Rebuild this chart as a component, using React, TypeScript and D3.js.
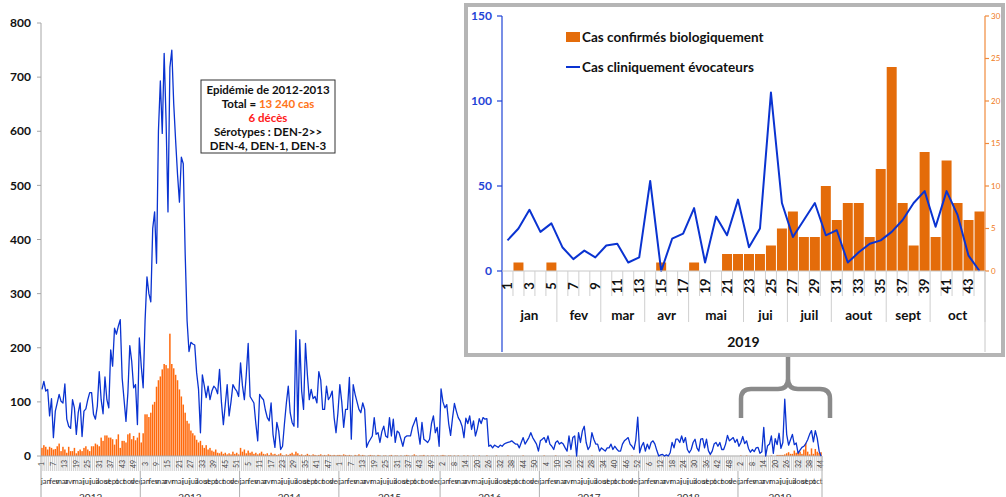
import { scaleBand, scaleLinear, line } from 'd3';

// weekly counts (clinical = blue line, confirmed = orange bars)
const years = ['2012', '2013', '2014', '2015', '2016', '2017', '2018', '2019'];
const months = ['jan', 'fev', 'mar', 'avr', 'mai', 'jui', 'juil', 'aout', 'sept', 'oct', 'nov', 'dec'];
const monthWeeks = [5, 4, 4, 4, 5, 4, 4, 5, 4, 5, 4, 4];
const monthWeeks53 = [5, 4, 4, 4, 5, 4, 4, 5, 4, 5, 4, 5];

const clin2012 = [123, 138, 120, 123, 74, 106, 34, 83, 98, 114, 101, 98, 133, 68, 55, 51, 104, 89, 40, 80, 98, 36, 83, 87, 104, 117, 117, 77, 68, 92, 156, 104, 78, 146, 104, 89, 196, 166, 236, 225, 240, 252, 144, 104, 64, 117, 204, 175, 126, 132, 58, 218];
const clin2013 = [166, 126, 250, 331, 300, 285, 420, 451, 356, 600, 693, 596, 744, 620, 451, 718, 750, 651, 583, 520, 469, 552, 540, 374, 250, 193, 210, 207, 205, 154, 123, 43, 150, 130, 108, 129, 104, 120, 129, 125, 115, 160, 99, 58, 95, 132, 74, 100, 132, 125, 120, 110];
const clin2014 = [172, 130, 104, 150, 208, 110, 104, 98, 60, 28, 114, 108, 104, 85, 71, 65, 98, 40, 16, 62, 46, 12, 18, 60, 98, 129, 80, 62, 55, 232, 53, 215, 120, 86, 208, 150, 104, 123, 106, 110, 98, 156, 140, 86, 86, 129, 104, 110, 120, 71, 43, 80];
const clin2015 = [132, 100, 53, 86, 86, 145, 31, 132, 114, 100, 86, 80, 98, 86, 16, 25, 31, 37, 71, 40, 43, 25, 45, 55, 37, 34, 71, 37, 68, 25, 46, 43, 31, 18, 34, 37, 37, 37, 53, 62, 71, 46, 22, 62, 31, 28, 25, 31, 60, 74, 43, 53, 18];
const clin2016 = [124, 100, 89, 95, 60, 38, 70, 97, 83, 71, 65, 55, 34, 70, 60, 74, 49, 65, 37, 50, 69, 60, 71, 68, 69, 18, 20, 15, 20, 18, 16, 20, 18, 22, 24, 25, 26, 28, 25, 22, 22, 15, 25, 34, 22, 28, 34, 43, 34, 28, 22, 9];
const clin2017 = [28, 31, 34, 25, 37, 22, 18, 12, 25, 28, 22, 25, 22, 15, 9, 37, 12, 34, 37, 0, 43, 25, 46, 55, 25, 12, 18, 43, 31, 22, 22, 9, 15, 12, 9, 15, 15, 22, 12, 18, 13, 9, 9, 22, 28, 31, 34, 22, 18, 12, 30, 72];
const clin2018 = [6, 18, 25, 9, 22, 13, 25, 28, 22, 10, 0, 2, 3, 0, 2, 0, 6, 25, 15, 31, 31, 25, 37, 25, 34, 12, 6, 12, 25, 31, 15, 9, 31, 32, 15, 31, 10, 3, 9, 22, 25, 18, 25, 12, 12, 22, 38, 28, 31, 34, 25, 31];
const clin2019 = [18, 25, 36, 23, 28, 14, 7, 12, 8, 15, 16, 5, 8, 53, 0, 19, 22, 37, 5, 32, 21, 42, 14, 25, 105, 40, 20, 30, 40, 21, 24, 5, 11, 16, 18, 23, 30, 40, 47, 26, 47, 33, 9, 0];

const conf2012 = [15, 20, 17, 12, 17, 15, 12, 13, 18, 23, 9, 17, 12, 6, 17, 9, 9, 15, 5, 9, 12, 9, 15, 18, 12, 9, 18, 18, 23, 21, 18, 34, 28, 38, 38, 34, 34, 31, 21, 31, 40, 15, 28, 28, 25, 40, 42, 31, 37, 29, 34, 43];
const conf2013 = [25, 42, 77, 77, 72, 80, 95, 100, 128, 140, 147, 160, 170, 168, 162, 226, 170, 162, 150, 140, 123, 110, 95, 80, 65, 60, 47, 42, 38, 30, 25, 28, 20, 15, 20, 12, 15, 10, 8, 12, 6, 5, 8, 4, 6, 3, 5, 3, 8, 4, 6, 3];
const conf2014 = [15, 8, 12, 5, 10, 6, 8, 4, 6, 3, 5, 8, 4, 3, 5, 2, 6, 3, 4, 2, 3, 5, 2, 1, 3, 2, 4, 6, 3, 8, 5, 2, 3, 1, 2, 4, 2, 1, 3, 2, 1, 2, 3, 1, 2, 1, 3, 2, 1, 2, 1, 2];
const conf2015 = [2, 1, 3, 2, 1, 2, 1, 0, 2, 1, 3, 1, 2, 1, 0, 1, 2, 1, 1, 0, 2, 1, 0, 1, 1, 0, 1, 2, 0, 1, 1, 0, 1, 0, 1, 2, 1, 0, 1, 3, 1, 0, 1, 1, 2, 0, 1, 0, 1, 1, 0, 1, 0];
const conf2016 = [1, 2, 1, 0, 1, 1, 0, 1, 0, 1, 0, 0, 1, 0, 1, 0, 0, 1, 0, 0, 1, 0, 0, 0, 1, 0, 0, 0, 0, 1, 0, 0, 0, 0, 0, 1, 0, 0, 0, 0, 0, 0, 0, 1, 0, 0, 0, 0, 0, 0, 0, 0];
const conf2017 = [0, 0, 1, 0, 0, 0, 0, 0, 1, 0, 0, 0, 0, 0, 0, 1, 0, 0, 0, 0, 0, 0, 0, 0, 0, 0, 0, 1, 0, 0, 0, 0, 0, 0, 0, 0, 0, 0, 0, 0, 0, 0, 0, 0, 0, 0, 0, 0, 1, 0, 0, 0];
const conf2018 = [0, 0, 0, 0, 0, 0, 0, 0, 0, 0, 0, 0, 0, 0, 0, 0, 0, 0, 0, 0, 0, 0, 0, 0, 0, 0, 0, 0, 0, 0, 0, 0, 0, 0, 0, 0, 0, 1, 0, 0, 0, 0, 0, 0, 0, 0, 0, 0, 0, 0, 0, 0];
const conf2019 = [0, 1, 0, 0, 1, 0, 0, 0, 0, 0, 0, 0, 0, 0, 1, 0, 0, 1, 0, 0, 2, 2, 2, 2, 3, 5, 7, 4, 4, 10, 6, 8, 8, 4, 12, 24, 8, 3, 14, 4, 13, 8, 6, 7];

const clinicalByYear = [clin2012, clin2013, clin2014, clin2015, clin2016, clin2017, clin2018, clin2019];
const confirmedByYear = [conf2012, conf2013, conf2014, conf2015, conf2016, conf2017, conf2018, conf2019];

const mainTicks = [0, 100, 200, 300, 400, 500, 600, 700, 800];
const insetLeftTicks = [0, 50, 100, 150];
const insetRightTicks = [0, 5, 10, 15, 20, 25, 30];

type Week = { idx: number; yi: number; week: number; clin: number; conf: number };

const weeks: Week[] = [];
clinicalByYear.forEach((arr, yi) => {
  arr.forEach((v, k) => {
    weeks.push({ idx: weeks.length, yi, week: k + 1, clin: v, conf: confirmedByYear[yi][k] });
  });
});

// month groups for a year of n weeks
const monthGroups = (n: number) => {
  const sizes = n === 53 ? monthWeeks53 : monthWeeks;
  const out: { label: string; start: number; len: number }[] = [];
  let s = 0;
  sizes.forEach((len, i) => {
    if (s >= n) return;
    const l = Math.min(len, n - s);
    out.push({ label: months[i], start: s, len: l });
    s += l;
  });
  return out;
};

const FONT = "Lato, 'Liberation Sans', Arial, sans-serif";
const ORANGE_MAIN = '#ff6a0d';
const ORANGE_INSET = '#e46c0a';
const BLUE = '#0a33d1';

const App = () => {
  // main chart
  const x = scaleBand<number>().domain(weeks.map((d) => d.idx)).range([41, 822]);
  const bw = x.bandwidth();
  const y = scaleLinear().domain([0, 800]).range([456, 23]);
  const mainLine = line<Week>()
    .x((d) => (x(d.idx) as number) + bw / 2)
    .y((d) => y(d.clin));

  const yearStarts: number[] = [];
  let acc = 0;
  clinicalByYear.forEach((arr) => {
    yearStarts.push(acc);
    acc += arr.length;
  });

  // inset chart (2019)
  const w19 = weeks.filter((d) => d.yi === 7);
  const xi = scaleBand<number>().domain(w19.map((d) => d.week)).range([502, 985]);
  const ibw = xi.bandwidth();
  const yl = scaleLinear().domain([0, 150]).range([271, 16]);
  const yr = scaleLinear().domain([0, 30]).range([271, 16]);
  const insetLine = line<Week>()
    .x((d) => (xi(d.week) as number) + ibw / 2)
    .y((d) => yl(d.clin));

  return (
    <svg
      width={1006}
      height={497}
      style={{ position: 'absolute', left: 0, top: 0, display: 'block', background: '#fff' }}
      fontFamily={FONT}
    >
      {/* main y axis */}
      <line x1={41} x2={41} y1={23} y2={497} stroke="#a6a6a6" />
      {mainTicks.map((t) => (
        <g key={t}>
          <line x1={37} x2={41} y1={y(t)} y2={y(t)} stroke="#a6a6a6" />
          <text x={31} y={y(t)} dy="0.35em" textAnchor="end" fontSize={12} fontWeight={700} fill="#111">
            {t}
          </text>
        </g>
      ))}

      {/* bars */}
      {weeks.map((d) => (
        <rect
          key={'b' + d.idx}
          x={(x(d.idx) as number) + 0.2}
          width={bw - 0.4}
          y={y(d.conf)}
          height={456 - y(d.conf)}
          fill={ORANGE_MAIN}
        />
      ))}

      {/* x axis: week ticks band */}
      <line x1={41} x2={822} y1={456} y2={456} stroke="#a6a6a6" />
      {weeks.map((d) => (
        <line
          key={'t' + d.idx}
          x1={(x(d.idx) as number) + bw}
          x2={(x(d.idx) as number) + bw}
          y1={456}
          y2={471}
          stroke="#c4c4c4"
          strokeWidth={0.8}
        />
      ))}
      {weeks
        .filter((d) => d.idx % 6 === 0)
        .map((d) => {
          const cx = (x(d.idx) as number) + bw / 2;
          return (
            <text
              key={'wl' + d.idx}
              transform={`translate(${cx},464) rotate(-90)`}
              textAnchor="middle"
              dy="0.35em"
              fontSize={7}
              fill="#444"
            >
              {d.week}
            </text>
          );
        })}
      {clinicalByYear.map((arr, yi) =>
        monthGroups(arr.length).map((m) => {
          const x0 = x(yearStarts[yi] + m.start) as number;
          return (
            <text
              key={'m' + yi + m.label}
              x={x0 + (m.len * bw) / 2}
              y={484}
              textAnchor="middle"
              fontSize={7.5}
              fill="#333"
            >
              {m.label}
            </text>
          );
        })
      )}
      {yearStarts.map((s, yi) => {
        const x0 = x(s) as number;
        const x1 = x0 + clinicalByYear[yi].length * bw;
        return (
          <g key={'y' + yi}>
            {yi > 0 && <line x1={x0} x2={x0} y1={471} y2={497} stroke="#b0b0b0" />}
            <text x={(x0 + x1) / 2} y={501} textAnchor="middle" fontSize={10} fill="#333">
              {years[yi]}
            </text>
          </g>
        );
      })}
      <line x1={822} x2={822} y1={456} y2={497} stroke="#b0b0b0" />

      {/* clinical line */}
      <path d={mainLine(weeks) || ''} fill="none" stroke={BLUE} strokeWidth={1.3} strokeLinejoin="round" />

      {/* annotation */}
      <rect x={201} y={80} width={134} height={73} fill="#fff" stroke="#333" strokeWidth={1} />
      <g fontSize={11.5} fontWeight={700} textAnchor="middle" fill="#111">
        <text x={268} y={90} dy="0.35em">Epidémie de 2012-2013</text>
        <text x={268} y={104} dy="0.35em">
          Total = <tspan fill="#ff7417">13 240 cas</tspan>
        </text>
        <text x={268} y={118} dy="0.35em" fill="#ff1a1a">6 décès</text>
        <text x={268} y={132} dy="0.35em">Sérotypes : DEN-2&gt;&gt;</text>
        <text x={268} y={146} dy="0.35em">DEN-4, DEN-1, DEN-3</text>
      </g>

      {/* bracket */}
      <path
        d="M741,418 V399 Q741,389 751,389 H778 Q788,389 788,379 V356 M788,379 Q788,389 798,389 H820 Q830,389 830,399 V418"
        fill="none"
        stroke="#8a8a8a"
        strokeWidth={4.5}
      />

      {/* inset */}
      <rect x={466} y={5} width={537} height={350} fill="#fff" stroke="#b5b5b5" strokeWidth={4} />
      {w19.map((d) => (
        <rect
          key={'ib' + d.week}
          x={(xi(d.week) as number) + 0.5}
          width={ibw - 1}
          y={yr(d.conf)}
          height={271 - yr(d.conf)}
          fill={ORANGE_INSET}
        />
      ))}
      <path d={insetLine(w19) || ''} fill="none" stroke={BLUE} strokeWidth={2} strokeLinejoin="round" />

      {/* inset left axis */}
      <line x1={502} x2={502} y1={16} y2={352} stroke="#1f44d6" strokeWidth={1.2} />
      {insetLeftTicks.map((t) => (
        <g key={'il' + t}>
          <line x1={497} x2={502} y1={yl(t)} y2={yl(t)} stroke="#1f44d6" strokeWidth={1.2} />
          <text x={492} y={yl(t)} dy="0.35em" textAnchor="end" fontSize={12} fontWeight={700} fill="#1f44d6">
            {t}
          </text>
        </g>
      ))}
      {/* inset right axis */}
      <line x1={985} x2={985} y1={16} y2={271} stroke="#f08a3c" strokeWidth={1.2} />
      <line x1={985} x2={985} y1={271} y2={352} stroke="#c8c8c8" />
      {insetRightTicks.map((t) => (
        <g key={'ir' + t}>
          <line x1={985} x2={989} y1={yr(t)} y2={yr(t)} stroke="#f08a3c" strokeWidth={1.2} />
          <text x={991} y={yr(t)} dy="0.35em" fontSize={8} fill="#f07a20">
            {t}
          </text>
        </g>
      ))}
      {/* inset category axis */}
      <line x1={502} x2={985} y1={271} y2={271} stroke="#c8c8c8" />
      {w19.map((d) => {
        const x0 = xi(d.week) as number;
        return (
          <g key={'ic' + d.week}>
            <line x1={x0 + ibw} x2={x0 + ibw} y1={271} y2={296} stroke="#cfcfcf" />
            {d.week % 2 === 1 && (
              <text
                transform={`translate(${x0 + ibw / 2},286) rotate(-90)`}
                textAnchor="middle"
                dy="0.35em"
                fontSize={13}
                fontWeight={700}
                fill="#111"
              >
                {d.week}
              </text>
            )}
          </g>
        );
      })}
      {monthGroups(w19.length).map((m) => {
        const x0 = xi(m.start + 1) as number;
        const x1 = x0 + m.len * ibw;
        return (
          <g key={'im' + m.label}>
            <line x1={x1} x2={x1} y1={296} y2={322} stroke="#cfcfcf" />
            <text x={(x0 + x1) / 2} y={315} dy="0.35em" textAnchor="middle" fontSize={13.5} fontWeight={700} fill="#111">
              {m.label}
            </text>
          </g>
        );
      })}
      <text x={(502 + 985) / 2} y={342} dy="0.35em" textAnchor="middle" fontSize={14} fontWeight={700} fill="#111">
        {years[7]}
      </text>

      {/* inset legend */}
      <rect x={566} y={32} width={14} height={10} fill={ORANGE_INSET} />
      <text x={582} y={37} dy="0.35em" fontSize={13.5} fontWeight={700} fill="#111">
        Cas confirmés biologiquement
      </text>
      <line x1={566} x2={580} y1={67} y2={67} stroke={BLUE} strokeWidth={2} />
      <text x={582} y={67} dy="0.35em" fontSize={13.5} fontWeight={700} fill="#111">
        Cas cliniquement évocateurs
      </text>
    </svg>
  );
};

export default App;
